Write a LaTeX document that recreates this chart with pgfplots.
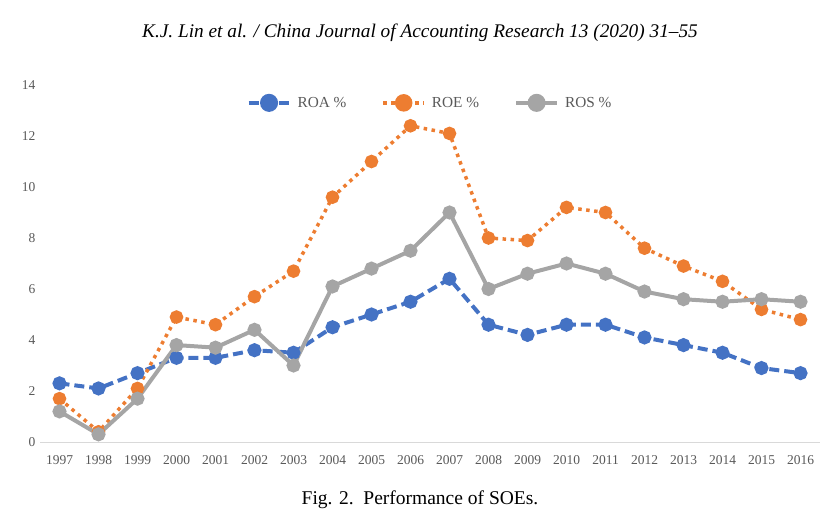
\documentclass[border=0pt]{standalone}
\usepackage{fontspec}
\setmainfont{Liberation Serif}
\usepackage{pgfplots}
\pgfplotsset{compat=1.18}
\definecolor{roa}{HTML}{4472C4}
\definecolor{roe}{HTML}{ED7D31}
\definecolor{ros}{HTML}{A5A5A5}
\definecolor{tick}{HTML}{595959}
\definecolor{axl}{HTML}{D9D9D9}
\begin{document}
\begin{tikzpicture}
\path[use as bounding box] (0pt,0pt) rectangle (835pt,525pt);
\node at (420pt,492pt) {\fontsize{19.3}{22}\selectfont\itshape K.J. Lin et al. / China Journal of Accounting Research 13 (2020) 31--55};
\node at (420pt,25pt) {\fontsize{19.5}{22}\selectfont Fig. 2.\ \ Performance of SOEs.};
\begin{axis}[
  at={(40pt,83pt)}, anchor=south west,
  scale only axis, width=780pt, height=357pt,
  xmin=-0.5, xmax=19.5, ymin=0, ymax=14,
  xtick={0,...,19},
  xticklabels={1997,1998,1999,2000,2001,2002,2003,2004,2005,2006,2007,2008,2009,2010,2011,2012,2013,2014,2015,2016},
  ytick={0,2,...,14},
  axis x line*=bottom,
  axis y line*=left,
  x axis line style={draw=axl, line width=1pt, -},
  y axis line style={draw=none},
  major tick length=0pt,
  xticklabel style={yshift=-10pt},
  yticklabel style={xshift=-1pt},
  tick label style={font=\fontsize{13.5}{15}\selectfont, text=tick},
  /pgf/number format/assume math mode=true,
  clip=false,
  legend columns=3,
  legend style={draw=none, fill=none, at={(0.5,0.95)}, anchor=center,
    font=\fontsize{15.3}{17}\selectfont, text=tick,
    /tikz/every even column/.append style={column sep=33pt},
    /tikz/every odd column/.append style={column sep=4pt}},
  legend image code/.code={\draw[mark repeat=2,mark phase=2, mark size=7pt] plot coordinates {(0pt,0pt)(20.5pt,0pt)(41pt,0pt)};},
]
\addplot[roa, line width=4pt, dash pattern=on 10pt off 5pt, mark=*, mark size=5pt, mark options={solid}]
coordinates {(0,2.3)(1,2.1)(2,2.7)(3,3.3)(4,3.3)(5,3.6)(6,3.5)(7,4.5)(8,5.0)(9,5.5)(10,6.4)(11,4.6)(12,4.2)(13,4.6)(14,4.6)(15,4.1)(16,3.8)(17,3.5)(18,2.9)(19,2.7)};
\addlegendentry{ROA \%}
\addplot[roe, line width=3.5pt, dash pattern=on 3.5pt off 4.5pt, mark=*, mark size=5pt, mark options={solid}]
coordinates {(0,1.7)(1,0.4)(2,2.1)(3,4.9)(4,4.6)(5,5.7)(6,6.7)(7,9.6)(8,11.0)(9,12.4)(10,12.1)(11,8.0)(12,7.9)(13,9.2)(14,9.0)(15,7.6)(16,6.9)(17,6.3)(18,5.2)(19,4.8)};
\addlegendentry{ROE \%}
\addplot[ros, line width=4pt, mark=*, mark size=5pt]
coordinates {(0,1.2)(1,0.3)(2,1.7)(3,3.8)(4,3.7)(5,4.4)(6,3.0)(7,6.1)(8,6.8)(9,7.5)(10,9.0)(11,6.0)(12,6.6)(13,7.0)(14,6.6)(15,5.9)(16,5.6)(17,5.5)(18,5.6)(19,5.5)};
\addlegendentry{ROS \%}
\end{axis}
\end{tikzpicture}
\end{document}
